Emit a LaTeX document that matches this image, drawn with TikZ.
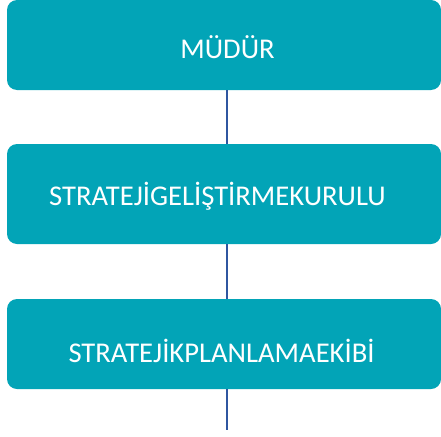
\documentclass[tikz,border=0pt]{standalone}
\usepackage{fontspec}
\setmainfont{Carlito}
\definecolor{boxfill}{HTML}{02A4B7}
\definecolor{linecol}{HTML}{2F56A0}
\begin{document}
\begin{tikzpicture}[x=1pt,y=1pt,
  box/.style={fill=boxfill, rounded corners=10pt, draw=none},
  lbl/.style={anchor=base, text=white, font=\fontsize{28.6}{32}\selectfont, inner sep=0pt},
  conn/.style={draw=linecol, line width=2pt}]
\useasboundingbox (0,0) rectangle (441,-436);
\node[box, minimum width=434pt, minimum height=90pt, inner sep=0pt] (b1) at (224,-45) {};
\node[box, minimum width=434pt, minimum height=100pt, inner sep=0pt] (b2) at (224,-194) {};
\node[box, minimum width=434pt, minimum height=90pt, inner sep=0pt] (b3) at (224,-344) {};
\node[lbl] (t1) at (227.5,-58) {MÜDÜR};
\node[lbl] (t2) at (217.5,-205) {STRATEJİGELİŞTİRMEKURULU};
\node[lbl] (t3) at (221.5,-362) {STRATEJİKPLANLAMAEKİBİ};
\coordinate (lx) at (227,0);
\coordinate (endc) at (227,-430);
\draw[conn] (b1.south -| lx) -- (b2.north -| lx);
\draw[conn] (b2.south -| lx) -- (b3.north -| lx);
\draw[conn] (b3.south -| lx) -- (endc);
\end{tikzpicture}
\end{document}
